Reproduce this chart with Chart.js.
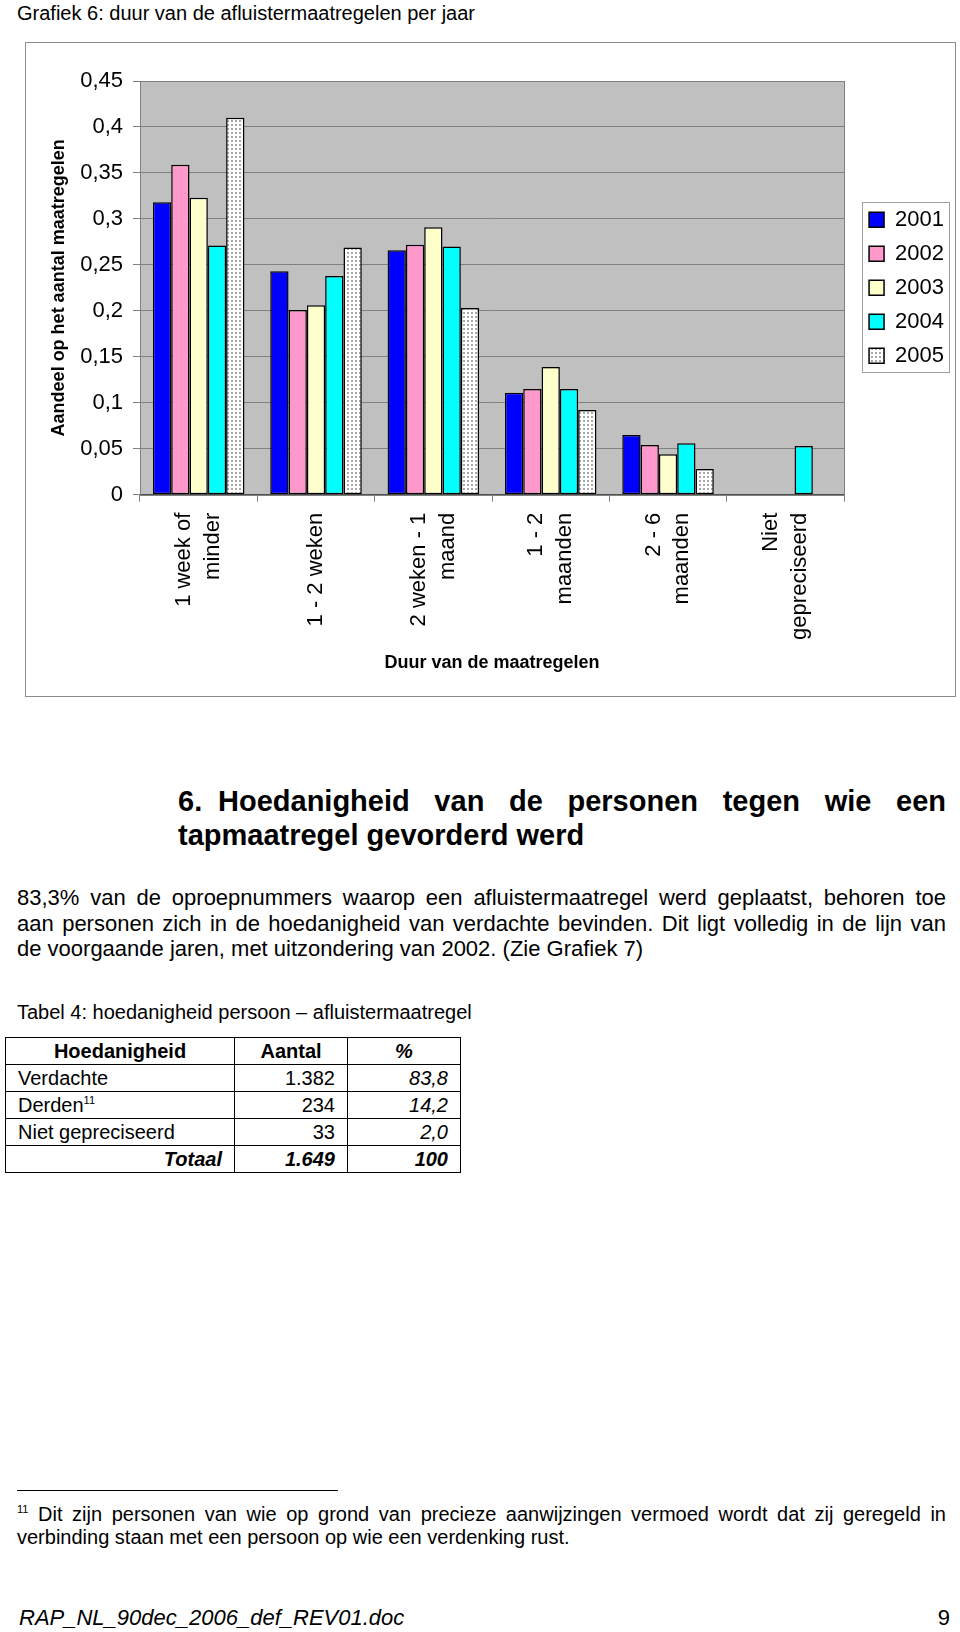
<!DOCTYPE html>
<html>
<head>
<meta charset="utf-8">
<script src="https://cdn.jsdelivr.net/npm/chart.js@4"></script>
<style>
  body { margin: 0; width: 960px; height: 1632px; position: relative; background: #fff; color: #000;
         font-family: 'Liberation Sans', Arial, sans-serif; }
  .abs { position: absolute; }
  #title { left: 17px; top: 1px; font-size: 20px; line-height: 24px; white-space: nowrap; }
  #chartBox { left: 25px; top: 42px; width: 931px; height: 655px; border: 1px solid #8c8c8c; box-sizing: border-box; }
  #h6 { left: 178px; top: 784px; width: 768px; font-weight: bold; font-size: 29px; line-height: 34px; }
  #h6 .num { display: inline-block; width: 40px; }
  .jl { display: block; text-align: justify; text-align-last: justify; white-space: nowrap; }
  #para { left: 17px; top: 885px; width: 929px; font-size: 22px; line-height: 25.5px; }
  #cap { left: 17px; top: 1001px; font-size: 20px; line-height: 22px; white-space: nowrap; }
  #tab { left: 5px; top: 1037px; border-collapse: collapse; font-size: 20px; }
  #tab td { border: 1.5px solid #000; height: 26px; padding: 0 12px; line-height: 26px; white-space: nowrap; }
  #tab td.c { text-align: center; font-weight: bold; }
  #tab td.r { text-align: right; }
  #tab td.i { font-style: italic; }
  #tab td.b { font-weight: bold; }
  sup { font-size: 11px; line-height: 0; vertical-align: 8px; }
  #fnline { left: 17px; top: 1490px; width: 321px; height: 1px; background: #000; }
  #fn { left: 17px; top: 1503px; width: 929px; font-size: 20px; line-height: 23px; }
  #foot { left: 19px; top: 1605px; font-size: 22px; line-height: 26px; font-style: italic; }
  #page { right: 10px; top: 1605px; font-size: 22px; line-height: 26px; }
</style>
</head>
<body>
<div id="title" class="abs">Grafiek 6: duur van de afluistermaatregelen per jaar</div>
<div id="chartBox" class="abs"><canvas id="c" width="929" height="653"></canvas></div>

<div id="h6" class="abs"><span class="jl"><span class="num">6.</span>Hoedanigheid van de personen tegen wie een</span>tapmaatregel gevorderd werd</div>

<div id="para" class="abs"><span class="jl">83,3% van de oproepnummers waarop een afluistermaatregel werd geplaatst, behoren toe</span><span class="jl">aan personen zich in de hoedanigheid van verdachte bevinden. Dit ligt volledig in de lijn van</span>de voorgaande jaren, met uitzondering van 2002. (Zie Grafiek 7)</div>

<div id="cap" class="abs">Tabel 4: hoedanigheid persoon – afluistermaatregel</div>
<table id="tab" class="abs">
  <colgroup><col style="width:229px"><col style="width:113px"><col style="width:113px"></colgroup>
  <tr><td class="c">Hoedanigheid</td><td class="c">Aantal</td><td class="c i">%</td></tr>
  <tr><td>Verdachte</td><td class="r">1.382</td><td class="r i">83,8</td></tr>
  <tr><td>Derden<sup>11</sup></td><td class="r">234</td><td class="r i">14,2</td></tr>
  <tr><td>Niet gepreciseerd</td><td class="r">33</td><td class="r i">2,0</td></tr>
  <tr><td class="r i b">Totaal</td><td class="r i b">1.649</td><td class="r i b">100</td></tr>
</table>

<div id="fnline" class="abs"></div>
<div id="fn" class="abs"><span class="jl"><sup>11</sup> Dit zijn personen van wie op grond van precieze aanwijzingen vermoed wordt dat zij geregeld in</span>verbinding staan met een persoon op wie een verdenking rust.</div>

<div id="foot" class="abs">RAP_NL_90dec_2006_def_REV01.doc</div>
<div id="page" class="abs">9</div>

<script>
// categories on the x axis (multi-line labels)
const categories = [
  ['1 week of', 'minder'],
  '1 - 2 weken',
  ['2 weken - 1', 'maand'],
  ['1 - 2', 'maanden'],
  ['2 - 6', 'maanden'],
  ['Niet', 'gepreciseerd']
];
const years = ['2001', '2002', '2003', '2004', '2005'];

// share per duration class
const v2001 = [0.318, 0.243, 0.266, 0.111, 0.065, null];
const v2002 = [0.359, 0.201, 0.272, 0.115, 0.054, null];
const v2003 = [0.323, 0.206, 0.291, 0.139, 0.044, null];
const v2004 = [0.271, 0.238, 0.270, 0.115, 0.056, 0.053];
const v2005 = [0.410, 0.269, 0.203, 0.092, 0.028, null];

const yMax = 0.45;
const yStep = 0.05;

const canvas = document.getElementById('c');
const ctx = canvas.getContext('2d');

const labelSize = 22;
const labelLine = 1.3;

// dotted fill used for 2005
function dotPattern() {
  const tile = document.createElement('canvas');
  tile.width = 4;
  tile.height = 4;
  const g = tile.getContext('2d');
  g.fillStyle = '#ffffff';
  g.fillRect(0, 0, 4, 4);
  g.fillStyle = '#a8a8a8';
  g.fillRect(1, 1, 2, 2);
  return ctx.createPattern(tile, 'repeat');
}

const fills = ['#0000ff', '#ff99cc', '#ffffcc', '#00ffff', dotPattern()];
const series = [v2001, v2002, v2003, v2004, v2005];

const datasets = years.map((y, i) => ({
  label: y,
  data: series[i],
  backgroundColor: fills[i],
  borderColor: '#000000',
  borderWidth: 1.5,
  borderSkipped: false,
  categoryPercentage: 0.78,
  barPercentage: 1.0
}));

// grey plot background and frame
const plotBg = {
  id: 'plotBg',
  beforeDraw(chart) {
    const a = chart.chartArea;
    const c = chart.ctx;
    c.save();
    c.fillStyle = '#c0c0c0';
    c.fillRect(a.left, a.top, a.right - a.left, a.bottom - a.top);
    c.restore();

    // single-line tick labels stay centred on their category
    const items = chart.scales.x.getLabelItems();
    items.forEach(it => {
      if (!Array.isArray(it.label) && !it._moved) {
        it.options.translation[0] += labelSize * labelLine / 2;
        it._moved = true;
      }
    });
  },
  beforeDatasetsDraw(chart) {
    const a = chart.chartArea;
    const c = chart.ctx;
    c.save();
    c.strokeStyle = '#808080';
    c.lineWidth = 1;
    c.strokeRect(Math.round(a.left) + 0.5, Math.round(a.top) + 0.5, Math.round(a.right - a.left), Math.round(a.bottom - a.top));
    c.restore();
  }
};

// thin frame around the legend
const legendFrame = {
  id: 'legendFrame',
  afterDraw(chart) {
    const hb = chart.legend && chart.legend.legendHitBoxes;
    if (!hb || !hb.length) return;
    const first = hb[0];
    const last = hb[hb.length - 1];
    let right = 0;
    hb.forEach(b => { right = Math.max(right, b.left + b.width); });
    const top = first.top + first.height / 2 - 18;
    const bottom = last.top + last.height / 2 + 16;
    const left = first.left - 7;
    const c = chart.ctx;
    c.save();
    c.strokeStyle = '#a0a0a0';
    c.lineWidth = 1;
    c.strokeRect(Math.round(left) + 0.5, Math.round(top) + 0.5, Math.round(right + 5 - left), Math.round(bottom - top));
    c.restore();
  }
};

Chart.defaults.font.family = "'Liberation Sans', Arial, sans-serif";
Chart.defaults.color = '#000000';

new Chart(canvas, {
  type: 'bar',
  data: { labels: categories, datasets: datasets },
  options: {
    responsive: false,
    animation: false,
    layout: { padding: { top: 38, right: 1, bottom: 0, left: 0 } },
    plugins: {
      tooltip: { enabled: false },
      legend: {
        position: 'right',
        align: 'center',
        fullSize: false,
        labels: {
          boxWidth: 15,
          boxHeight: 15,
          padding: 12,
          color: '#000',
          font: { size: 22 }
        }
      }
    },
    scales: {
      x: {
        offset: true,
        grid: { display: true, drawOnChartArea: false, drawTicks: true, tickLength: 7, color: '#808080', offset: true },
        border: { display: true, color: '#505050', width: 1 },
        ticks: {
          autoSkip: false,
          maxRotation: 90,
          minRotation: 90,
          padding: 11,
          labelOffset: -labelSize * labelLine / 2,
          font: { size: labelSize, lineHeight: labelLine },
          color: '#000'
        },
        title: {
          display: true,
          text: 'Duur van de maatregelen',
          font: { size: 18, weight: 'bold' },
          padding: { top: 0, bottom: 22 }
        },
        afterFit(s) { s.height = 201.3; }
      },
      y: {
        min: 0,
        max: yMax,
        grid: { color: '#808080', tickLength: 7, drawTicks: true },
        border: { display: true, color: '#808080' },
        ticks: {
          stepSize: yStep,
          padding: 10,
          font: { size: 22 },
          color: '#000',
          callback: v => String(Number(v.toFixed(2))).replace('.', ',')
        },
        title: {
          display: true,
          text: 'Aandeel op het aantal maatregelen',
          font: { size: 18, weight: 'bold' },
          padding: { top: 22, bottom: 0 }
        },
        afterFit(s) { s.width = 114; }
      },
      gap: {
        type: 'linear',
        position: 'right',
        display: true,
        grid: { display: false },
        border: { display: false },
        ticks: { display: false },
        afterFit(s) { s.width = 13; }
      }
    }
  },
  plugins: [plotBg, legendFrame]
});
</script>
</body>
</html>
